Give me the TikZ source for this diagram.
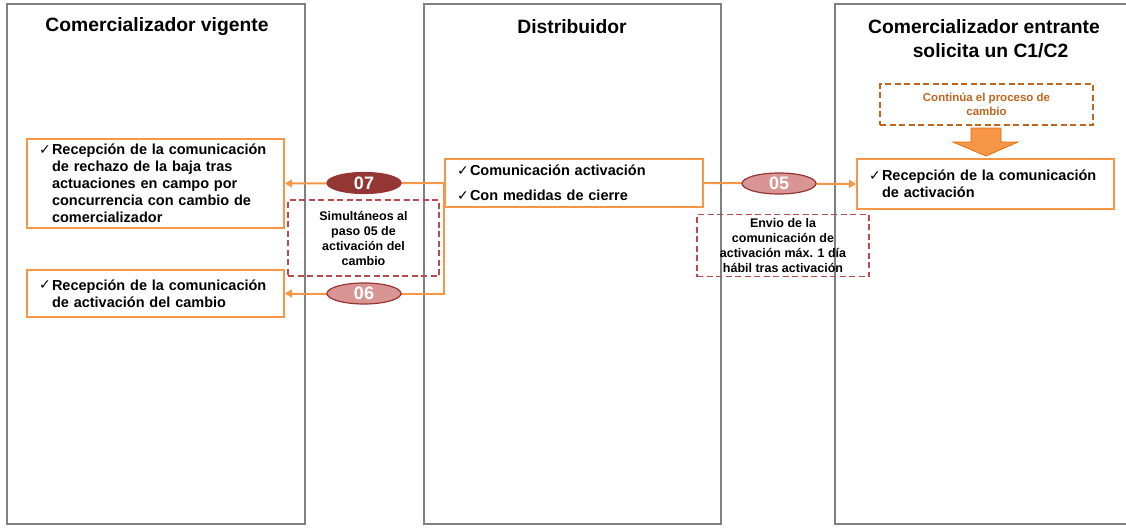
\documentclass[tikz,border=0pt]{standalone}
\usepackage{fontspec}
\setmainfont{Liberation Sans}
\newfontfamily\symfont{DejaVu Sans}
\usetikzlibrary{arrows.meta,shapes.geometric}
\definecolor{laneGray}{HTML}{808080}
\definecolor{boxOrange}{HTML}{F79646}
\definecolor{arrowEdge}{HTML}{E46C0A}
\definecolor{stepDark}{HTML}{943634}
\definecolor{stepLight}{HTML}{D99594}
\definecolor{noteRed}{HTML}{B84A4D}
\definecolor{noteBrown}{HTML}{C0651E}
% check-marked item with hanging text
\newcommand{\chkitem}[2]{\makebox[13pt][l]{\symfont\fontsize{14}{14}\selectfont\raisebox{0.3pt}{✓}}\parbox[t]{#1}{#2}}
\tikzset{
  lane/.style={draw=laneGray, line width=1.6pt},
  lanetitle/.style={font=\fontsize{19.3}{24}\selectfont\bfseries, align=center},
  obox/.style={draw=boxOrange, line width=2pt, fill=white, inner xsep=12pt, inner ysep=0pt,
    align=left, font=\fontsize{14.5}{17}\selectfont\bfseries},
  note/.style={draw=noteRed, dash pattern=on 6pt off 3.5pt, line width=1.2pt, align=center, inner sep=0pt,
    font=\fontsize{12.5}{15}\selectfont\bfseries},
  stepnum/.style={ellipse, draw=stepDark, line width=1.2pt, minimum width=74pt, minimum height=21pt,
    inner sep=0pt, text=white, font=\fontsize{18}{18}\selectfont\bfseries},
  conn/.style={draw=boxOrange, line width=2pt, -{Triangle[length=7pt,width=8pt]}}
}
\begin{document}
\begin{tikzpicture}[x=1pt,y=-1pt]
\useasboundingbox (0,0) rectangle (1126,527);
% swimlanes
\draw[lane] (7,4) rectangle (305,524);
\draw[lane] (424,4) rectangle (721,524);
\draw[lane] (1140,4) -- (835,4) -- (835,524) -- (1140,524);
\node[lanetitle] (t1) at (157,27) {Comercializador vigente};
\node[lanetitle] (t2) at (572,27) {Distribuidor};
\node[lanetitle] (t3) at (984,39) {Comercializador entrante\\\hspace*{13pt}solicita un C1/C2};

% step boxes
\node[obox, text width=233pt, minimum height=89pt] (A) at (155.5,183.5)
  {\chkitem{220pt}{Recepción de la comunicación\\de rechazo de la baja tras\\actuaciones en campo por\\concurrencia con cambio de\\comercializador}};
\node[obox, text width=233pt, minimum height=47pt] (B) at (155.5,293.5)
  {\chkitem{220pt}{Recepción de la comunicación\\de activación del cambio}};
\node[obox, text width=234pt, minimum height=48pt] (C) at (574,183)
  {\chkitem{220pt}{Comunicación activación}\\[8pt]\chkitem{220pt}{Con medidas de cierre}};
\node[obox, text width=233pt, minimum height=50pt] (D) at (985.5,184)
  {\chkitem{220pt}{Recepción de la comunicación\\de activación}};

% notes
\node[note, minimum width=151pt, minimum height=76pt] (n1) at (363.5,238)
  {Simultáneos al\\paso 05 de\\activación del\\cambio};
\node[note, minimum width=172pt, minimum height=62pt] (n2) at (783,245.5)
  {Envio de la\\comunicación de\\activación máx. 1 día\\hábil tras activación};
\node[note, draw=noteBrown, text=noteBrown, minimum width=213pt, minimum height=41pt,
  font=\fontsize{11.5}{14}\selectfont\bfseries] (n3) at (986.5,104.5)
  {Continúa el proceso de\\cambio};

% block arrow into the incoming retailer's box
\draw[fill=boxOrange, draw=arrowEdge, line width=0.8pt]
  (971,128) -- (1001,128) -- (1001,142) -- (1018,142) -- (986,156)
  -- (953,142) -- (971,142) -- cycle;

% connectors
\draw[conn] (C.west) -- (A.east);
\draw[conn] (C.west) |- (B.east);
\draw[conn] (C.east) -- (D.west);

% step numbers
\node[stepnum, fill=stepDark] (s07) at (364,183) {07};
\node[stepnum, fill=stepLight] (s06) at (364,293.5) {06};
\node[stepnum, fill=stepLight] (s05) at (779,183.5) {05};
\end{tikzpicture}
\end{document}
